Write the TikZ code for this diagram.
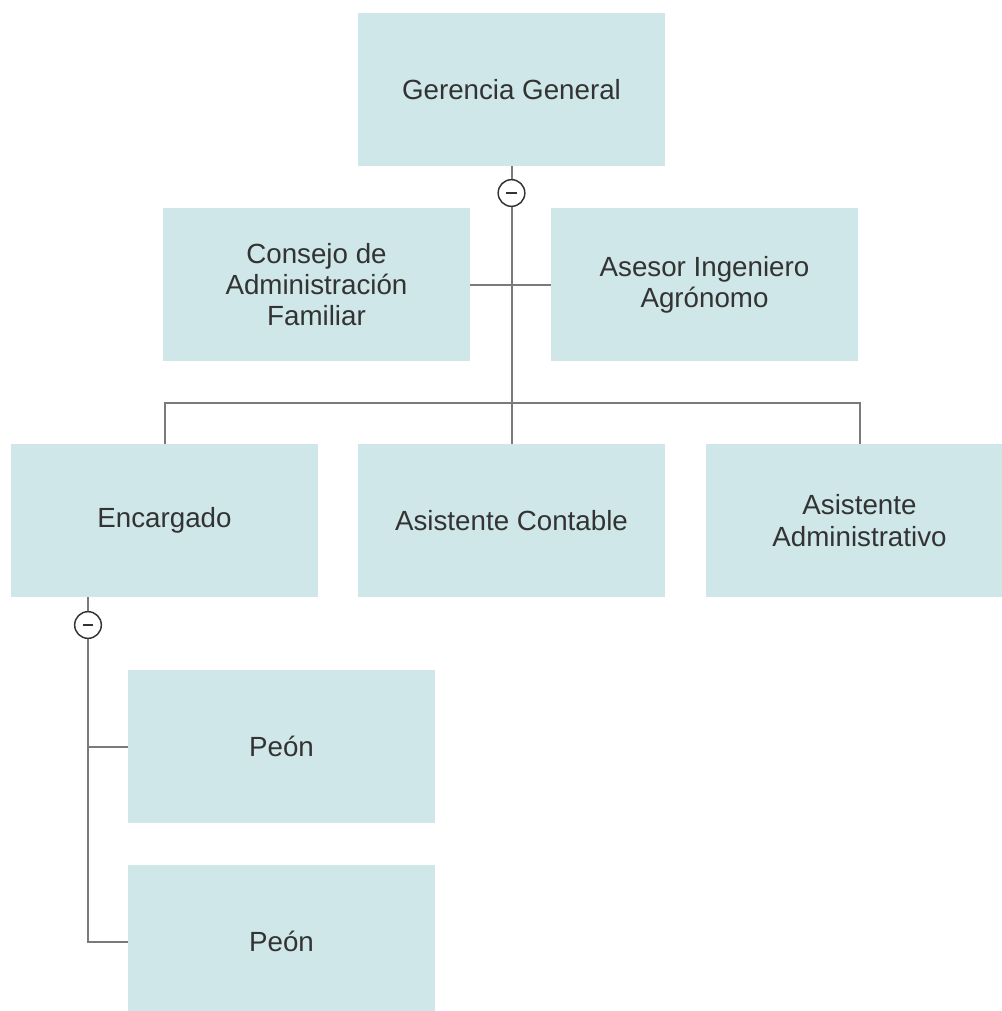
\documentclass[tikz,border=0pt]{standalone}
\usepackage{fontspec}
\setmainfont{Liberation Sans}
\definecolor{boxfill}{HTML}{CFE7E8}
\definecolor{txtgray}{HTML}{333333}
\definecolor{linegray}{HTML}{7A7A7A}
\begin{document}
\begin{tikzpicture}[x=0.75pt,y=-0.75pt,
		box/.style={fill=boxfill,text=txtgray,align=center,inner sep=0pt,
			minimum width=230.25pt,minimum height=114.75pt,
			font=\fontsize{20.8}{23.5}\selectfont},
		link/.style={draw=linegray,line width=1.5pt},
		fold/.style={circle,draw=txtgray,fill=white,line width=1.1pt,
			minimum size=20pt,inner sep=0pt,
			path picture={\draw[txtgray,line width=1.8pt] (-4pt,0) -- (4pt,0);}}]
		\useasboundingbox (0,0) rectangle (1002,1011);
		% boxes
		\node[box] (gg) at (511.5,89.5) {Gerencia General};
		\node[box] (cons) at (316.5,284.5) {Consejo de\\Administración\\Familiar};
		\node[box] (ase) at (704.5,284.5) {Asesor Ingeniero\\Agrónomo};
		\node[box] (enc) at (164.5,520.5) {\raisebox{-2.2pt}{Encargado}};
		\node[box] (ac) at (511.5,520.5) {Asistente Contable};
		\node[box] (aad) at (859.5,520.5) {Asistente\\Administrativo};
		\node[box] (p1) at (281.5,746.5) {Peón};
		\node[box] (p2) at (281.5,941.5) {Peón};
		\coordinate (bus) at (511.5,403);
		\coordinate (etrunk) at (88,597);
		% connectors
		\draw[link] (gg.south) -- (ac.north);
		\draw[link] (cons.east) -- (ase.west);
		\draw[link] (enc.north) -- (enc.north |- bus) -- (aad.north |- bus) -- (aad.north);
		\draw[link] (etrunk) |- (p2.west);
		\draw[link] (etrunk |- p1.west) -- (p1.west);
		\node[fold] (f1) at (511.5,193) {};
		\node[fold] (f2) at (88,625) {};
	\end{tikzpicture}
\end{document}
